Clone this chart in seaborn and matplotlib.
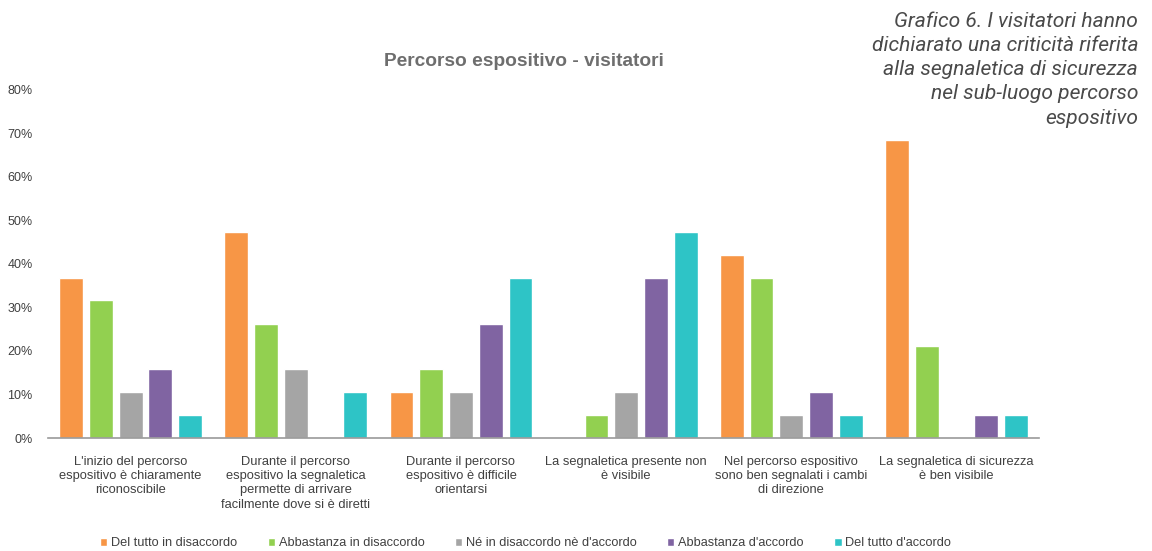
import matplotlib
matplotlib.use("Agg")
import matplotlib.pyplot as plt
import seaborn as sns
import pandas as pd
from matplotlib.ticker import PercentFormatter

categories = [
    "L'inizio del percorso\nespositivo è chiaramente\nriconoscibile",
    "Durante il percorso\nespositivo la segnaletica\npermette di arrivare\nfacilmente dove si è diretti",
    "Durante il percorso\nespositivo è difficile\norientarsi",
    "La segnaletica presente non\nè visibile",
    "Nel percorso espositivo\nsono ben segnalati i cambi\ndi direzione",
    "La segnaletica di sicurezza\nè ben visibile",
]
series = [
    "Del tutto in disaccordo",
    "Abbastanza in disaccordo",
    "Né in disaccordo nè d'accordo",
    "Abbastanza d'accordo",
    "Del tutto d'accordo",
]
del_tutto_disaccordo = [36.8, 47.4, 10.5, 0.0, 42.1, 68.4]
abbastanza_disaccordo = [31.6, 26.3, 15.8, 5.3, 36.8, 21.1]
ne_ne = [10.5, 15.8, 10.5, 10.5, 5.3, 0.0]
abbastanza_accordo = [15.8, 0.0, 26.3, 36.8, 10.5, 5.3]
del_tutto_accordo = [5.3, 10.5, 36.8, 47.4, 5.3, 5.3]
colors = ["#F79646", "#92D050", "#A5A5A5", "#8064A2", "#2EC4C6"]
y_ticks = [0, 10, 20, 30, 40, 50, 60, 70, 80]

values = [del_tutto_disaccordo, abbastanza_disaccordo, ne_ne,
          abbastanza_accordo, del_tutto_accordo]
rows = []
for s, vals in zip(series, values):
    for c, v in zip(categories, vals):
        rows.append({"categoria": c, "risposta": s, "valore": v})
df = pd.DataFrame(rows)

sns.set_theme(style="white")
plt.rcParams["font.family"] = ["Liberation Sans", "DejaVu Sans"]

fig = plt.figure(figsize=(11.52, 5.51), dpi=100)
ax = fig.add_axes([0.0417, 0.205, 0.8603, 0.632])

sns.barplot(data=df, x="categoria", y="valore", hue="risposta",
            order=categories, hue_order=series, palette=colors,
            width=0.9, gap=0.2, ax=ax, saturation=1, legend=True)

ax.set_ylim(0, 80)
ax.set_xlim(-0.5, len(categories) - 0.5)
ax.set_yticks(y_ticks)
ax.yaxis.set_major_formatter(PercentFormatter(decimals=0))
ax.set_xlabel("")
ax.set_ylabel("")
ax.tick_params(axis="y", labelsize=9, colors="#404040", length=0, pad=11)
ax.tick_params(axis="x", labelsize=9.3, colors="#404040", length=0, pad=13)
for lbl in ax.get_xticklabels():
    lbl.set_linespacing(1.24)
for side in ["top", "right", "left"]:
    ax.spines[side].set_visible(False)
ax.spines["bottom"].set_color("#9A9A9A")
ax.spines["bottom"].set_linewidth(1.2)

handles, labels = ax.get_legend_handles_labels()
ax.legend(handles, labels, loc="center", bbox_to_anchor=(0.482, -0.302),
          ncol=5, frameon=False, fontsize=9.2, handlelength=0.55,
          handleheight=0.55, handletextpad=0.3, columnspacing=2.4,
          labelcolor="#404040")

fig.text(0.455, 0.8875, "Percorso espositivo - visitatori", ha="center",
         va="center", fontsize=13.8, fontweight="bold", color="#6E6E6E")

caption = ("Grafico 6. I visitatori hanno\ndichiarato una criticità riferita\n"
           "alla segnaletica di sicurezza\nnel sub-luogo percorso\nespositivo")
fig.text(0.988, 0.978, caption, ha="right", va="top", fontsize=15.1,
         style="italic", color="#4A4A4A",
         family=["Roboto", "DejaVu Sans"], linespacing=1.34)

fig.savefig("out.png", dpi=100, facecolor="white")
